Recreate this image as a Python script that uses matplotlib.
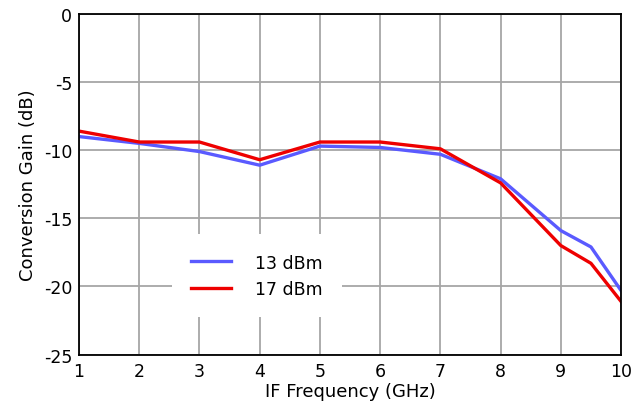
import matplotlib
matplotlib.use("Agg")
import matplotlib.pyplot as plt

plt.rcParams["axes.unicode_minus"] = False

freq = [1, 2, 3, 4, 5, 6, 7, 8, 9, 9.5, 10]
gain_13dbm = [-9.0, -9.5, -10.1, -11.1, -9.7, -9.8, -10.3, -12.1, -15.9, -17.1, -20.3]
gain_17dbm = [-8.6, -9.4, -9.4, -10.7, -9.4, -9.4, -9.9, -12.4, -17.0, -18.3, -21.1]

fig = plt.figure(figsize=(6.37, 4.14), dpi=100)
ax = fig.add_axes([0.124, 0.141, 0.851, 0.823])

ax.plot(freq, gain_13dbm, color="#5a5aff", lw=2.4, label="13 dBm")
ax.plot(freq, gain_17dbm, color="#ee0000", lw=2.4, label="17 dBm")

ax.set_xlim(1, 10)
ax.set_ylim(-25, 0)
ax.set_xticks(range(1, 11))
ax.set_yticks(range(-25, 1, 5))
ax.grid(True, color="#a6a6a6", lw=1.3)
ax.tick_params(length=0, labelsize=12.5, pad=5)
for s in ax.spines.values():
    s.set_linewidth(1.3)

ax.set_xlabel("IF Frequency (GHz)", fontsize=13, labelpad=2)
ax.set_ylabel("Conversion Gain (dB)", fontsize=13, labelpad=5)

leg = ax.legend(loc="lower left", bbox_to_anchor=(0.19, 0.14), frameon=True,
                fontsize=12.5, handlelength=2.3, handletextpad=1.4,
                borderpad=0.5, labelspacing=0.5, borderaxespad=0)
leg.get_frame().set_edgecolor("none")
leg.get_frame().set_facecolor("white")
leg.get_frame().set_alpha(1)
leg.get_frame().set_boxstyle("square", pad=0.6)

fig.savefig("out.png", dpi=100)
